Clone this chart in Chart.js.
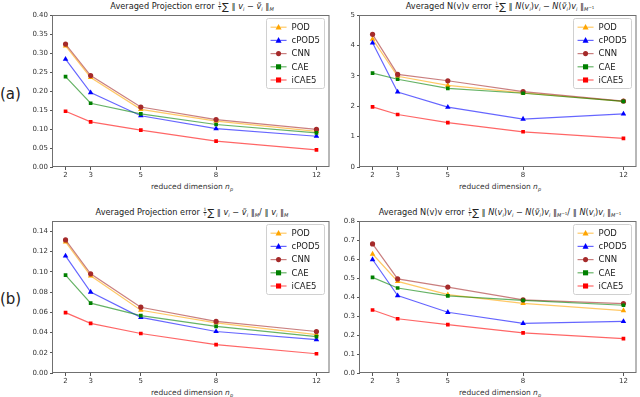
<!DOCTYPE html>
<html lang="en">
<head>
    <meta charset="UTF-8">
    <title>Reduced dimension errors</title>
    <script src="https://cdn.jsdelivr.net/npm/chart.js"></script>
    <style>
        body { margin: 0; background: #fff; font-family: "DejaVu Sans", sans-serif; }
        #fig { position: relative; width: 640px; height: 397px; overflow: hidden; }
        canvas { position: absolute; }
        .title, .xlab, .panel { position: absolute; white-space: nowrap; color: #222; }
        .title { font-size: 8.2px; transform: translateX(-50%); line-height: 10px; }
        .xlab { font-size: 7.5px; transform: translateX(-50%); color: #333; }
        .panel { font-size: 15px; left: 0; }
        .frac { display: inline-block; vertical-align: middle; text-align: center; font-size: 4.5px; line-height: 4.5px; margin: 0 1px; }
        .frac span { display: block; }
        .frac span + span { border-top: 0.5px solid #222; }
        .sum { font-size: 10px; vertical-align: -1px; }
        sub { font-size: 5px; vertical-align: -2px; }
        sup { font-size: 4px; vertical-align: 2px; }
        i { font-style: italic; }
    </style>
</head>
<body>
<div id="fig">
    <div class="panel" style="top:85px">(a)</div>
    <div class="panel" style="top:290px">(b)</div>

    <div class="title" style="left:192px;top:1px">Averaged Projection error <span class="frac"><span>1</span><span>T</span></span><span class="sum">∑</span> ∥ <i>v<sub>i</sub></i> − <i>ṽ<sub>i</sub></i> ∥<sub><i>M</i></sub></div>
    <div class="title" style="left:500px;top:1px">Averaged N(v)v error <span class="frac"><span>1</span><span>T</span></span><span class="sum">∑</span> ∥ <i>N</i>(<i>v<sub>i</sub></i>)<i>v<sub>i</sub></i> − <i>N</i>(<i>ṽ<sub>i</sub></i>)<i>v<sub>i</sub></i> ∥<sub><i>M</i><sup>−1</sup></sub></div>
    <div class="title" style="left:192px;top:207px">Averaged Projection error <span class="frac"><span>1</span><span>T</span></span><span class="sum">∑</span> ∥ <i>v<sub>i</sub></i> − <i>ṽ<sub>i</sub></i> ∥<sub><i>M</i></sub>/ ∥ <i>v<sub>i</sub></i> ∥<sub><i>M</i></sub></div>
    <div class="title" style="left:500px;top:207px">Averaged N(v)v error <span class="frac"><span>1</span><span>T</span></span><span class="sum">∑</span> ∥ <i>N</i>(<i>v<sub>i</sub></i>)<i>v<sub>i</sub></i> − <i>N</i>(<i>ṽ<sub>i</sub></i>)<i>v<sub>i</sub></i> ∥<sub><i>M</i><sup>−1</sup></sub>/ ∥ <i>N</i>(<i>v<sub>i</sub></i>)<i>v<sub>i</sub></i> ∥<sub><i>M</i><sup>−1</sup></sub></div>

    <div class="xlab" style="left:192px;top:182px">reduced dimension <i>n<sub>p</sub></i></div>
    <div class="xlab" style="left:500px;top:182px">reduced dimension <i>n<sub>p</sub></i></div>
    <div class="xlab" style="left:192px;top:388px">reduced dimension <i>n<sub>p</sub></i></div>
    <div class="xlab" style="left:500px;top:388px">reduced dimension <i>n<sub>p</sub></i></div>

    <canvas id="c1"></canvas>
    <canvas id="c2"></canvas>
    <canvas id="c3"></canvas>
    <canvas id="c4"></canvas>
</div>

<script>
    // reduced dimensions on the x axis
    const dims = [2, 3, 5, 8, 12];
    const models = ['POD', 'cPOD5', 'CNN', 'CAE', 'iCAE5'];
    const colors = ['#ffa500', '#0000ff', '#a52a2a', '#008000', '#ff0000'];
    const markers = ['triangle', 'triangle', 'circle', 'rect', 'rect'];

    // rows follow the order of models
    const projAbs = [
        [0.319, 0.236, 0.152, 0.121, 0.094],
        [0.284, 0.196, 0.135, 0.101, 0.081],
        [0.324, 0.241, 0.158, 0.125, 0.099],
        [0.238, 0.168, 0.140, 0.112, 0.090],
        [0.147, 0.119, 0.097, 0.068, 0.045]
    ];
    const nvvAbs = [
        [4.21, 2.99, 2.69, 2.44, 2.16],
        [4.09, 2.47, 1.97, 1.58, 1.75],
        [4.37, 3.05, 2.84, 2.48, 2.17],
        [3.09, 2.89, 2.59, 2.43, 2.16],
        [1.98, 1.73, 1.46, 1.16, 0.94]
    ];
    const projRel = [
        [0.1295, 0.096, 0.062, 0.0495, 0.038],
        [0.1157, 0.080, 0.055, 0.041, 0.033],
        [0.1315, 0.098, 0.065, 0.051, 0.041],
        [0.0967, 0.069, 0.0567, 0.046, 0.036],
        [0.0597, 0.049, 0.039, 0.028, 0.019]
    ];
    const nvvRel = [
        [0.627, 0.483, 0.413, 0.367, 0.329],
        [0.598, 0.408, 0.320, 0.262, 0.272],
        [0.680, 0.496, 0.453, 0.385, 0.366],
        [0.504, 0.448, 0.406, 0.383, 0.357],
        [0.332, 0.286, 0.255, 0.211, 0.181]
    ];

    // y axis: max, step, decimals
    const yAxisA1 = [0.40, 0.05, 2];
    const yAxisA2 = [5, 1, 0];
    const yAxisB1 = [0.15, 0.02, 2];
    const yAxisB2 = [0.8, 0.1, 1];

    const YW = 40, XH = 16, PT = 6, PR = 1;

    function fade(hex, a) {
        const n = parseInt(hex.slice(1), 16);
        return `rgba(${n >> 16},${(n >> 8) & 255},${n & 255},${a})`;
    }

    function marker(ctx, style, x, y, r, color) {
        ctx.fillStyle = color;
        ctx.beginPath();
        if (style === 'triangle') {
            ctx.moveTo(x, y - r * 1.1);
            ctx.lineTo(x + r, y + r * 0.75);
            ctx.lineTo(x - r, y + r * 0.75);
            ctx.closePath();
        } else if (style === 'rect') {
            ctx.rect(x - r * 0.85, y - r * 0.85, r * 1.7, r * 1.7);
        } else {
            ctx.arc(x, y, r * 0.85, 0, Math.PI * 2);
        }
        ctx.fill();
    }

    const frameAndLegend = {
        id: 'frameAndLegend',
        afterDraw(chart) {
            const ctx = chart.ctx, a = chart.chartArea;
            ctx.save();
            ctx.strokeStyle = '#707070';
            ctx.lineWidth = 1;
            ctx.strokeRect(Math.round(a.left) - 0.5, Math.round(a.top) + 0.5,
                Math.round(a.right - a.left) + 0.5, Math.round(a.bottom - a.top) - 1);

            // legend box, top right
            ctx.font = '8.5px "DejaVu Sans"';
            let tw = 0;
            models.forEach(m => tw = Math.max(tw, ctx.measureText(m).width));
            const w = 26 + tw + 4, h = 70;
            const x0 = a.right - 5 - w, y0 = a.top + 3;
            ctx.fillStyle = 'rgba(255,255,255,0.85)';
            ctx.strokeStyle = '#d0d0d0';
            ctx.beginPath();
            ctx.roundRect(Math.round(x0) + 0.5, Math.round(y0) + 0.5, Math.round(w), h, 2);
            ctx.fill();
            ctx.stroke();
            models.forEach((m, i) => {
                const y = y0 + 9 + i * 13.2;
                ctx.strokeStyle = fade(colors[i], 0.6);
                ctx.lineWidth = 1.2;
                ctx.beginPath();
                ctx.moveTo(x0 + 5, y);
                ctx.lineTo(x0 + 21, y);
                ctx.stroke();
                marker(ctx, markers[i], x0 + 13, y, 3, colors[i]);
                ctx.fillStyle = '#222';
                ctx.textBaseline = 'middle';
                ctx.fillText(m, x0 + 26, y + 0.5);
            });
            ctx.restore();
        }
    };

    function makeChart(id, box, rows, yAxis) {
        const [left, top, right, bottom] = box;
        const cv = document.getElementById(id);
        const w = right - left + YW + PR, h = bottom - top + PT + XH;
        cv.style.left = (left - YW) + 'px';
        cv.style.top = (top - PT) + 'px';
        cv.style.width = w + 'px';
        cv.style.height = h + 'px';
        cv.width = w;
        cv.height = h;

        const datasets = rows.map((vals, i) => ({
            label: models[i],
            data: dims.map((d, j) => ({ x: d, y: vals[j] })),
            borderColor: fade(colors[i], 0.6),
            borderWidth: 1.2,
            pointStyle: markers[i],
            pointRadius: markers[i] === 'triangle' ? 3.2 : 2.6,
            pointBackgroundColor: colors[i],
            pointBorderColor: colors[i],
            pointBorderWidth: 0,
            tension: 0,
            order: models.length - i
        }));

        const tickFont = { family: 'DejaVu Sans', size: 7 };
        const [yMax, yStep, yDec] = yAxis;
        return new Chart(cv, {
            type: 'line',
            data: { datasets },
            options: {
                responsive: false,
                animation: false,
                events: [],
                layout: { padding: { top: PT, right: PR, left: 0, bottom: 0 } },
                plugins: { legend: { display: false }, tooltip: { enabled: false } },
                scales: {
                    x: {
                        type: 'linear',
                        min: 1.5,
                        max: 12.5,
                        afterBuildTicks: s => { s.ticks = dims.map(v => ({ value: v })); },
                        afterFit: s => { s.height = XH; },
                        ticks: { font: tickFont, color: '#333', padding: 1, maxRotation: 0, autoSkip: false },
                        grid: { drawOnChartArea: false, tickLength: 3, color: '#555' },
                        border: { display: false }
                    },
                    y: {
                        min: 0,
                        max: yMax,
                        afterFit: s => { s.width = YW; },
                        afterBuildTicks: s => {
                            const n = Math.floor(yMax / yStep + 1e-6);
                            s.ticks = Array.from({ length: n + 1 }, (_, k) => ({ value: k * yStep }));
                        },
                        ticks: {
                            font: tickFont,
                            color: '#333',
                            padding: 2,
                            callback: v => v.toFixed(yDec)
                        },
                        grid: { drawOnChartArea: false, tickLength: 3, color: '#555' },
                        border: { display: false }
                    }
                }
            },
            plugins: [frameAndLegend]
        });
    }

    makeChart('c1', [53, 15, 332, 167], projAbs, yAxisA1);
    makeChart('c2', [360, 15, 639, 167], nvvAbs, yAxisA2);
    makeChart('c3', [53, 221, 332, 373], projRel, yAxisB1);
    makeChart('c4', [360, 221, 639, 373], nvvRel, yAxisB2);
</script>
</body>
</html>
